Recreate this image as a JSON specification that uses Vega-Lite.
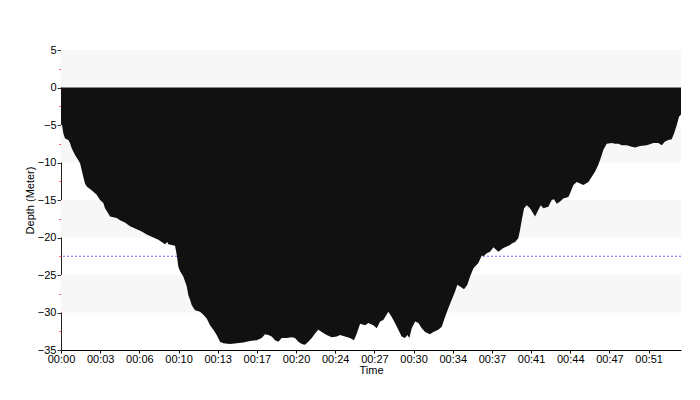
{
  "$schema": "https://vega.github.io/schema/vega-lite/v6.json",
  "width": 620,
  "height": 300,
  "autosize": "none",
  "padding": {"left": 61, "top": 50, "right": 19, "bottom": 50},
  "background": "white",
  "config": {
    "view": {"stroke": null},
    "font": "Liberation Sans",
    "axis": {"labelFont": "Liberation Sans", "titleFont": "Liberation Sans", "labelFontSize": 11, "titleFontSize": 11, "titleFontWeight": "normal", "labelColor": "#000", "titleColor": "#000", "grid": false}
  },
  "datasets": {
    "dive": [
      {"t": 0, "d": -3.9}, {"t": 0.11, "d": -5.2}, {"t": 0.2, "d": -6.1}, {"t": 0.35, "d": -6.8},
      {"t": 0.64, "d": -7.0}, {"t": 0.78, "d": -7.4}, {"t": 0.93, "d": -8.1}, {"t": 1.22, "d": -9.0},
      {"t": 1.51, "d": -9.7}, {"t": 1.66, "d": -10.1}, {"t": 1.8, "d": -11.0}, {"t": 1.94, "d": -11.9},
      {"t": 2.09, "d": -12.8}, {"t": 2.24, "d": -13.2}, {"t": 2.67, "d": -13.7}, {"t": 3.11, "d": -14.3},
      {"t": 3.4, "d": -15.0}, {"t": 3.69, "d": -15.4}, {"t": 3.83, "d": -16.1}, {"t": 4.12, "d": -16.8},
      {"t": 4.27, "d": -17.2}, {"t": 4.85, "d": -17.4}, {"t": 5.14, "d": -17.7}, {"t": 5.57, "d": -18.0},
      {"t": 6.01, "d": -18.5}, {"t": 6.45, "d": -18.8}, {"t": 7.03, "d": -19.2}, {"t": 7.47, "d": -19.6},
      {"t": 7.9, "d": -19.9}, {"t": 8.48, "d": -20.3}, {"t": 8.77, "d": -20.6}, {"t": 9.06, "d": -20.9},
      {"t": 9.26, "d": -20.6}, {"t": 9.35, "d": -20.9}, {"t": 9.64, "d": -21.0}, {"t": 9.93, "d": -21.1},
      {"t": 10.08, "d": -22.3}, {"t": 10.22, "d": -23.9}, {"t": 10.37, "d": -24.5}, {"t": 10.65, "d": -25.2},
      {"t": 10.95, "d": -26.5}, {"t": 11.09, "d": -27.7}, {"t": 11.24, "d": -28.3}, {"t": 11.38, "d": -29.0},
      {"t": 11.67, "d": -29.7}, {"t": 12.11, "d": -29.9}, {"t": 12.4, "d": -30.3}, {"t": 12.69, "d": -30.8},
      {"t": 12.98, "d": -31.7}, {"t": 13.27, "d": -32.3}, {"t": 13.56, "d": -33.0}, {"t": 13.85, "d": -33.9},
      {"t": 14.14, "d": -34.1}, {"t": 14.72, "d": -34.2}, {"t": 15.3, "d": -34.1}, {"t": 15.88, "d": -34.0},
      {"t": 16.46, "d": -33.8}, {"t": 17.05, "d": -33.7}, {"t": 17.48, "d": -33.4}, {"t": 17.77, "d": -32.9},
      {"t": 18.06, "d": -33.0}, {"t": 18.35, "d": -33.2}, {"t": 18.64, "d": -33.7}, {"t": 18.93, "d": -33.9},
      {"t": 19.23, "d": -33.4}, {"t": 19.66, "d": -33.4}, {"t": 20.1, "d": -33.3}, {"t": 20.38, "d": -33.4},
      {"t": 20.67, "d": -33.9}, {"t": 20.97, "d": -34.2}, {"t": 21.25, "d": -34.3}, {"t": 21.54, "d": -33.9},
      {"t": 21.84, "d": -33.4}, {"t": 22.13, "d": -32.8}, {"t": 22.41, "d": -32.3}, {"t": 22.71, "d": -32.6},
      {"t": 23.14, "d": -33.0}, {"t": 23.58, "d": -33.3}, {"t": 24.02, "d": -33.2}, {"t": 24.3, "d": -33.0},
      {"t": 24.74, "d": -33.2}, {"t": 25.17, "d": -33.4}, {"t": 25.52, "d": -33.7}, {"t": 25.76, "d": -32.8},
      {"t": 26.05, "d": -31.5}, {"t": 26.48, "d": -31.7}, {"t": 26.77, "d": -31.4}, {"t": 27.2, "d": -31.7},
      {"t": 27.5, "d": -32.1}, {"t": 27.79, "d": -31.2}, {"t": 28.07, "d": -31.0}, {"t": 28.51, "d": -29.9},
      {"t": 28.81, "d": -30.6}, {"t": 29.09, "d": -31.4}, {"t": 29.38, "d": -32.3}, {"t": 29.67, "d": -33.2},
      {"t": 29.96, "d": -33.4}, {"t": 30.17, "d": -33.0}, {"t": 30.34, "d": -33.4}, {"t": 30.55, "d": -32.1},
      {"t": 30.84, "d": -31.2}, {"t": 31.13, "d": -31.4}, {"t": 31.42, "d": -32.1}, {"t": 31.71, "d": -32.6},
      {"t": 32.14, "d": -32.9}, {"t": 32.43, "d": -32.6}, {"t": 32.86, "d": -32.3}, {"t": 33.16, "d": -31.9},
      {"t": 33.45, "d": -30.6}, {"t": 33.74, "d": -29.4}, {"t": 34.03, "d": -28.3}, {"t": 34.32, "d": -27.2},
      {"t": 34.52, "d": -26.3}, {"t": 34.82, "d": -26.6}, {"t": 35.1, "d": -26.9}, {"t": 35.39, "d": -26.3},
      {"t": 35.63, "d": -25.2}, {"t": 35.92, "d": -24.1}, {"t": 36.35, "d": -23.4}, {"t": 36.65, "d": -22.4},
      {"t": 36.8, "d": -22.5}, {"t": 37.08, "d": -22.1}, {"t": 37.37, "d": -21.9}, {"t": 37.66, "d": -21.3},
      {"t": 38.09, "d": -21.9}, {"t": 38.53, "d": -21.4}, {"t": 38.82, "d": -21.2}, {"t": 39.11, "d": -21.0},
      {"t": 39.26, "d": -20.8}, {"t": 39.55, "d": -20.6}, {"t": 39.83, "d": -20.1}, {"t": 39.98, "d": -19.0},
      {"t": 40.13, "d": -17.7}, {"t": 40.33, "d": -16.1}, {"t": 40.57, "d": -15.7}, {"t": 40.85, "d": -16.1},
      {"t": 41.29, "d": -17.2}, {"t": 41.58, "d": -16.3}, {"t": 41.79, "d": -15.7}, {"t": 42.01, "d": -16.1},
      {"t": 42.45, "d": -15.9}, {"t": 42.74, "d": -15.0}, {"t": 42.94, "d": -14.9}, {"t": 43.18, "d": -15.5},
      {"t": 43.47, "d": -15.2}, {"t": 43.75, "d": -14.8}, {"t": 44.19, "d": -14.6}, {"t": 44.34, "d": -14.1},
      {"t": 44.63, "d": -13.0}, {"t": 44.92, "d": -12.6}, {"t": 45.21, "d": -12.8}, {"t": 45.5, "d": -13.0},
      {"t": 45.94, "d": -12.6}, {"t": 46.23, "d": -11.9}, {"t": 46.52, "d": -11.2}, {"t": 46.8, "d": -10.3},
      {"t": 47.01, "d": -9.4}, {"t": 47.24, "d": -8.3}, {"t": 47.53, "d": -7.5}, {"t": 47.97, "d": -7.4},
      {"t": 48.26, "d": -7.5}, {"t": 48.55, "d": -7.5}, {"t": 48.84, "d": -7.7}, {"t": 49.28, "d": -7.7},
      {"t": 49.71, "d": -7.9}, {"t": 50.0, "d": -8.0}, {"t": 50.44, "d": -7.8}, {"t": 51.02, "d": -7.7},
      {"t": 51.6, "d": -7.4}, {"t": 52.03, "d": -7.4}, {"t": 52.32, "d": -7.7}, {"t": 52.61, "d": -7.2},
      {"t": 52.9, "d": -7.0}, {"t": 53.19, "d": -6.9}, {"t": 53.4, "d": -6.1}, {"t": 53.63, "d": -5.0},
      {"t": 53.83, "d": -3.9}, {"t": 54.0, "d": -3.6}
    ],
    "bands": [
      {"lo": 5, "hi": 0}, {"lo": -5, "hi": -10}, {"lo": -15, "hi": -20}, {"lo": -25, "hi": -30}
    ],
    "ref": [{"depth": -22.5}]
  },
  "resolve": {"axis": {"y": "independent", "x": "independent"}},
  "layer": [
    {
      "data": {"name": "bands"},
      "mark": {"type": "rect", "color": "#f7f7f7"},
      "encoding": {
        "y": {"field": "lo", "type": "quantitative", "scale": {"domain": [-35, 5], "nice": false, "zero": false},
          "axis": {"orient": "left", "values": [-35, -30, -25, -20, -15, -10, -5, 0, 5], "tickSize": 4, "tickColor": "#333", "domainColor": "#222", "labelPadding": 1, "title": "Depth (Meter)", "titlePadding": 2}},
        "y2": {"field": "hi"}
      }
    },
    {
      "data": {"name": "ref"},
      "mark": {"type": "rule", "color": "#6b6bff", "strokeDash": [2, 2], "strokeWidth": 1},
      "encoding": {
        "y": {"field": "depth", "type": "quantitative", "scale": {"domain": [-35, 5], "nice": false, "zero": false},
          "axis": {"orient": "left", "values": [-32.5, -27.5, -22.5, -17.5, -12.5, -7.5, -2.5, 2.5], "tickSize": 2, "tickColor": "#ff3030", "labels": false, "domain": false, "title": null}}
      }
    },
    {
      "data": {"name": "dive"},
      "mark": {"type": "area", "color": "#111111", "interpolate": "linear"},
      "encoding": {
        "x": {"field": "t", "type": "quantitative", "scale": {"domain": [0, 54], "nice": false, "zero": false},
          "axis": {"orient": "bottom", "values": [0, 3.412, 6.824, 10.236, 13.648, 17.06, 20.472, 23.884, 27.296, 30.708, 34.12, 37.532, 40.944, 44.356, 47.768, 51.18],
            "labelExpr": "['00:00','00:03','00:06','00:10','00:13','00:17','00:20','00:24','00:27','00:30','00:34','00:37','00:41','00:44','00:47','00:51'][round(datum.value / 3.412)]",
            "tickSize": 3, "tickColor": "#000", "domainColor": "#000", "labelPadding": 0, "labelFlush": false, "labelOverlap": false, "title": "Time", "titlePadding": 0}},
        "y": {"field": "d", "type": "quantitative", "scale": {"domain": [-35, 5], "nice": false, "zero": false}, "axis": null},
        "y2": {"datum": 0}
      }
    }
  ]
}
